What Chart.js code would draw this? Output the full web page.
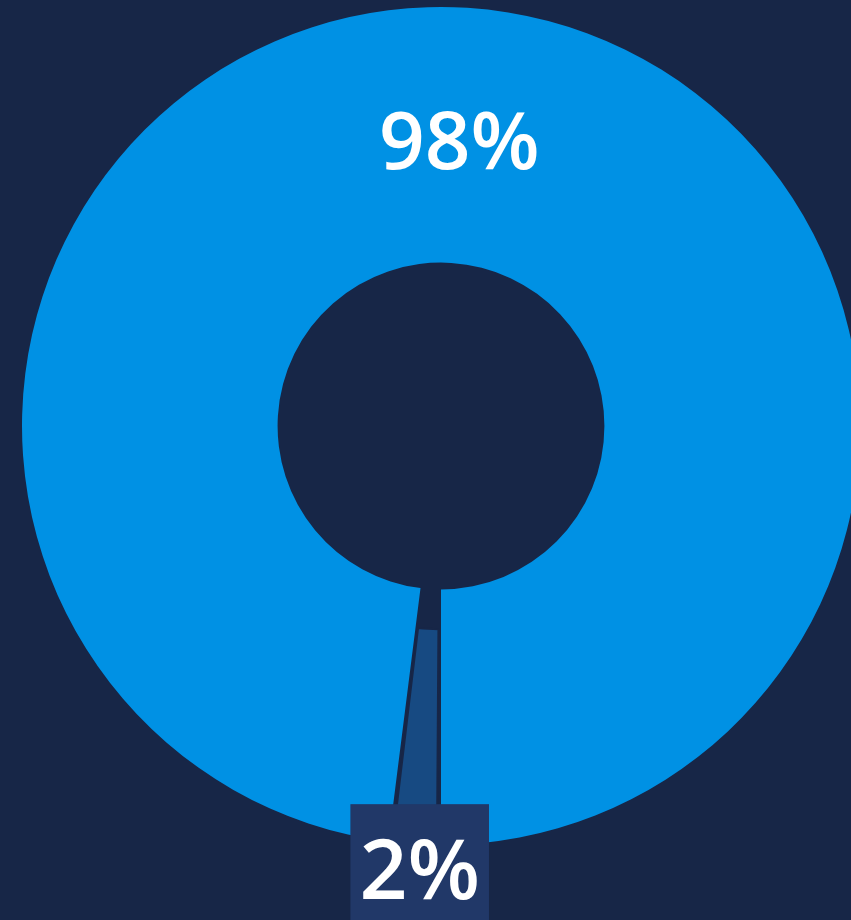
<!DOCTYPE html>
<html>
<head>
<meta charset="utf-8">
<script src="https://cdn.jsdelivr.net/npm/chart.js@4/dist/chart.umd.min.js"></script>
<style>
    html, body { margin: 0; padding: 0; background: #172647; }
    #wrap { width: 851px; height: 920px; position: relative; overflow: hidden; }
</style>
</head>
<body>
<div id="wrap"><canvas id="donut" width="851" height="920"></canvas></div>
<script>
// Dados do gráfico
const categorias = ['Outros', 'Principal'];
const valores = [2, 98];
const rotulos = ['2%', '98%'];

const corFundo = '#172647';
const coresFatias = ['#174a82', '#0091e4'];

// Rótulos: fatia grande com texto no meio, fatia pequena com caixa fora do anel
const labelsPlugin = {
    id: 'labelsPlugin',
    afterDatasetsDraw(chart) {
        const ctx = chart.ctx;
        const meta = chart.getDatasetMeta(0);
        meta.data.forEach((arc, i) => {
            const texto = rotulos[i];
            const p = arc.getProps(['x', 'y', 'startAngle', 'endAngle', 'outerRadius'], true);
            const mid = (p.startAngle + p.endAngle) / 2;
            ctx.save();
            ctx.fillStyle = '#ffffff';
            ctx.textAlign = 'center';
            ctx.textBaseline = 'middle';
            if (valores[i] >= 10) {
                const pos = arc.tooltipPosition(true);
                ctx.font = '600 80px "Open Sans", sans-serif';
                ctx.fillText(texto, pos.x, pos.y + 11);
            } else {
                const x = p.x + Math.cos(mid) * p.outerRadius + 5;
                const y = p.y + Math.sin(mid) * p.outerRadius + 27;
                ctx.font = '600 84px "Open Sans", sans-serif';
                const w = ctx.measureText(texto).width + 18;
                ctx.fillStyle = '#213868';
                ctx.fillRect(x - w / 2, y - 67, w, 134);
                ctx.fillStyle = '#ffffff';
                ctx.fillText(texto, x, y + 4);
            }
            ctx.restore();
        });
    }
};

function initializeChart() {
    const ctx = document.getElementById('donut').getContext('2d');
    return new Chart(ctx, {
        type: 'doughnut',
        data: {
            labels: categorias,
            datasets: [{
                data: valores,
                backgroundColor: coresFatias,
                borderColor: [corFundo, coresFatias[1]],
                borderWidth: [2, 0],
                offset: [85, 0],
                clip: false
            }]
        },
        options: {
            responsive: false,
            animation: false,
            rotation: 180,
            cutout: '39%',
            radius: 419,
            layout: { padding: { left: 31, right: 0, top: 0, bottom: 68 } },
            plugins: {
                legend: { display: false },
                tooltip: { enabled: false }
            }
        },
        plugins: [labelsPlugin]
    });
}

document.addEventListener('DOMContentLoaded', initializeChart);
</script>
</body>
</html>
